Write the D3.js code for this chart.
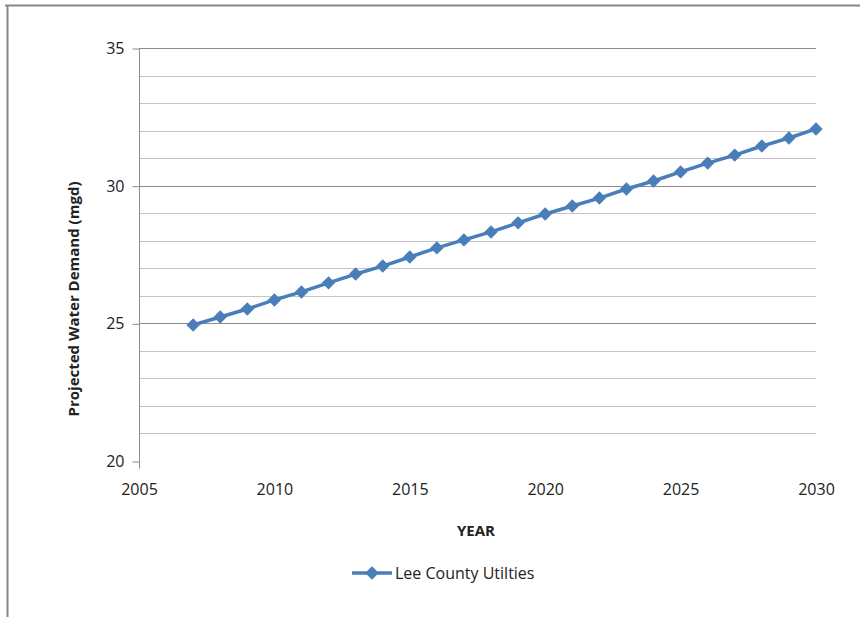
<!DOCTYPE html>
<html>
<head>
<meta charset="utf-8">
<script src="https://cdn.jsdelivr.net/npm/d3@7"></script>
<style>
  body { margin: 0; background: #fff; }
  text { font-family: 'Open Sans', 'Noto Sans', sans-serif; fill: #222; }
</style>
</head>
<body>
<script>
const years = d3.range(2007, 2031)
const demand = [24.94, 25.23, 25.52, 25.85, 26.14, 26.47, 26.79, 27.08, 27.41, 27.74, 28.03, 28.32,
	28.65, 28.97, 29.26, 29.55, 29.88, 30.17, 30.50, 30.82, 31.11, 31.44, 31.73, 32.06]
const xTicks = [2005, 2010, 2015, 2020, 2025, 2030]
const yTicks = [20, 25, 30, 35]
const yGrid = d3.range(21, 36)
const seriesName = 'Lee County Utilties'
const color = '#4a7ebb'

const W = 860
const H = 617

const x = d3.scaleLinear().domain([2005, 2030]).range([139, 816])
const y = d3.scaleLinear().domain([20, 35]).range([461, 48])

const svg = d3.select('body')
	.append('svg')
	.attr('width', W)
	.attr('height', H)

// outer frame (top + left only visible)
svg.append('line').attr('x1', 5).attr('x2', W).attr('y1', 5.5).attr('y2', 5.5)
	.attr('stroke', '#878787').attr('stroke-width', 2)
svg.append('line').attr('x1', 7.5).attr('x2', 7.5).attr('y1', 5).attr('y2', H)
	.attr('stroke', '#878787').attr('stroke-width', 2)

// gridlines
svg.append('g')
	.selectAll('line')
	.data(yGrid)
	.enter()
	.append('line')
	.attr('x1', x(2005))
	.attr('x2', x(2030))
	.attr('y1', d => Math.round(y(d)) + 0.5)
	.attr('y2', d => Math.round(y(d)) + 0.5)
	.attr('stroke', d => d % 5 === 0 ? '#8c8c8c' : '#c4c4c4')
	.attr('stroke-width', 1)

// y axis
const yAxis = d3.axisLeft(y)
	.tickValues(yTicks)
	.tickSize(7)
	.tickPadding(8)
	.tickFormat(d3.format('d'))

const gy = svg.append('g')
	.attr('transform', `translate(${x(2005) + 0.5},0.5)`)
	.call(yAxis)
gy.select('.domain').remove()
gy.selectAll('line').attr('stroke', '#8c8c8c')
gy.selectAll('text').style('font-size', '16px').attr('fill', '#222')
gy.append('line')
	.attr('x1', 0).attr('x2', 0)
	.attr('y1', y(35)).attr('y2', y(20) + 7)
	.attr('stroke', '#8c8c8c')

// x axis labels
const xAxis = d3.axisBottom(x)
	.tickValues(xTicks)
	.tickSize(0)
	.tickPadding(23)
	.tickFormat(d3.format('d'))

const gx = svg.append('g')
	.attr('transform', `translate(0,${y(20)})`)
	.call(xAxis)
gx.select('.domain').remove()
gx.selectAll('text').style('font-size', '16px').attr('fill', '#222')

// axis titles
svg.append('text')
	.attr('x', 476)
	.attr('y', 536)
	.attr('text-anchor', 'middle')
	.style('font-size', '15px')
	.style('font-weight', 'bold')
	.text('YEAR')

svg.append('text')
	.attr('transform', 'translate(79,299) rotate(-90)')
	.attr('text-anchor', 'middle')
	.style('font-size', '15px')
	.style('font-weight', 'bold')
	.text('Projected Water Demand (mgd)')

// series
const pts = years.map((yr, i) => ({ yr, v: demand[i] }))
const line = d3.line().x(d => x(d.yr)).y(d => y(d.v))

svg.append('path')
	.datum(pts)
	.attr('d', line)
	.attr('fill', 'none')
	.attr('stroke', color)
	.attr('stroke-width', 3.5)
	.attr('stroke-linejoin', 'round')

// square diamonds (rotated squares)
const diamond = d3.symbol().type(d3.symbolSquare).size(90)

svg.append('g')
	.selectAll('path')
	.data(pts)
	.enter()
	.append('path')
	.attr('d', diamond)
	.attr('transform', d => `translate(${x(d.yr)},${y(d.v)}) rotate(45)`)
	.attr('fill', color)

// legend
const lg = svg.append('g').attr('transform', 'translate(352,573)')
lg.append('line').attr('x1', 0).attr('x2', 40).attr('y1', 0).attr('y2', 0)
	.attr('stroke', color).attr('stroke-width', 3.5)
lg.append('path').attr('d', diamond).attr('transform', 'translate(20,0) rotate(45)').attr('fill', color)
lg.append('text')
	.attr('x', 43)
	.attr('y', 0)
	.attr('dy', '0.35em')
	.style('font-size', '16px')
	.text(seriesName)
</script>
</body>
</html>
